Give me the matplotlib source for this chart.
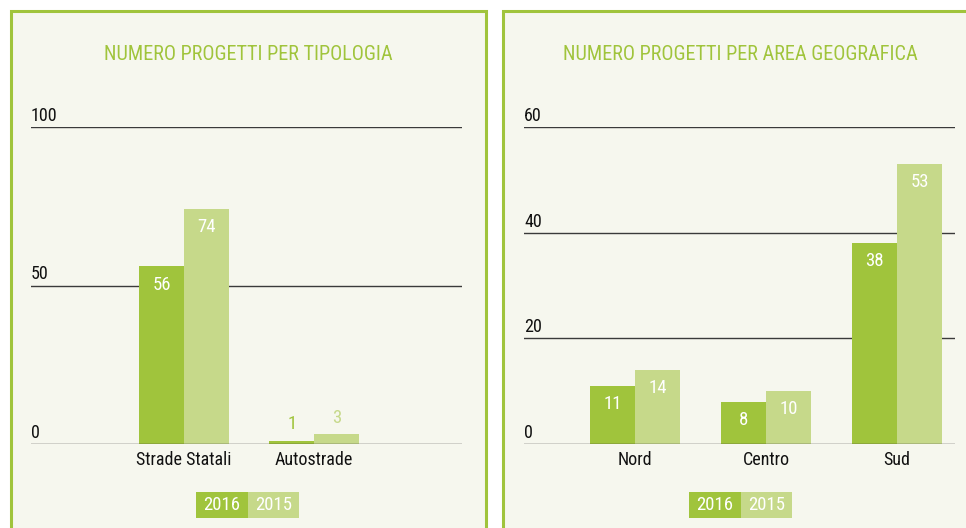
import matplotlib
matplotlib.use("Agg")
import matplotlib.pyplot as plt
from matplotlib import font_manager
from matplotlib.patches import Rectangle
import numpy as np

# data
years = ["2016", "2015"]
tipologia = ["Strade Statali", "Autostrade"]
tipologia_2016 = [56, 1]
tipologia_2015 = [74, 3]
tipologia_ticks = [0, 50, 100]

aree = ["Nord", "Centro", "Sud"]
aree_2016 = [11, 8, 38]
aree_2015 = [14, 10, 53]
aree_ticks = [0, 20, 40, 60]

GREEN = "#a0c43c"
LIGHT = "#c6d98a"
BG = "#f6f7ee"

# pick a narrow font if one is installed
installed = {f.name for f in font_manager.fontManager.ttflist}
narrow = [n for n in ["Liberation Sans Narrow", "Roboto Condensed", "DejaVu Sans Condensed",
                      "Roboto"] if n in installed]
plt.rcParams["font.family"] = narrow[:1] + ["DejaVu Sans"]

W, H = 966, 528
fig = plt.figure(figsize=(W / 100, H / 100), dpi=100, facecolor="white")


def fx(px):
    return px / W


def fy(py):
    return 1 - py / H


def panel(x0, x1, title, cx):
    # green framed box, open at the bottom edge of the image
    fig.patches.append(Rectangle((fx(x0), fy(H + 10)), fx(x1 - x0), (H + 10 - 10.5) / H,
                                 transform=fig.transFigure, facecolor=BG,
                                 edgecolor=GREEN, linewidth=2.2, zorder=-5))
    fig.text(fx(cx), fy(54), title, color=GREEN, fontsize=14.6,
             ha="center", va="center")


def legend(cx):
    w, h, top = 51.5, 26, 492
    for i, (yr, col) in enumerate(zip(years, [GREEN, LIGHT])):
        x0 = cx - w + i * w
        fig.patches.append(Rectangle((fx(x0), fy(top + h)), fx(w), h / H,
                                     transform=fig.transFigure, facecolor=col,
                                     edgecolor="none", zorder=1))
        fig.text(fx(x0 + w / 2), fy(top + h / 2 + 0.5), yr, color="white",
                 fontsize=13.5, ha="center", va="center", zorder=2)


def bars(rect, cats, v16, v15, ticks, xlim):
    ax = fig.add_axes(rect)
    ax.set_facecolor("none")
    ax.set_zorder(1)
    x = np.arange(len(cats))
    bw = 0.343
    ymax = ticks[-1]
    for vals, col, off in [(v16, GREEN, -bw / 2), (v15, LIGHT, bw / 2)]:
        ax.bar(x + off, vals, width=bw, color=col, zorder=2)
        for xi, v in zip(x + off, vals):
            if v / ymax < 0.08:
                ax.annotate(str(v), (xi, v), xytext=(0, 12), textcoords="offset points",
                            ha="center", va="center", color=col, fontsize=13.5)
            else:
                ax.annotate(str(v), (xi, v), xytext=(0, -13), textcoords="offset points",
                            ha="center", va="center", color="white", fontsize=13.5)
    for t in ticks:
        ax.axhline(t, color="#3a3a3a", linewidth=1.0, zorder=3 if t == 0 else 1)
        ax.annotate(str(t), (0, t), xycoords=("axes fraction", "data"),
                    xytext=(0, 1.5), textcoords="offset points",
                    ha="left", va="bottom", fontsize=13, color="#111111")
    ax.set_xlim(*xlim)
    ax.set_ylim(0, ymax)
    ax.set_xticks(x)
    ax.set_xticklabels(cats, fontsize=13, color="#111111")
    ax.tick_params(axis="x", length=0, pad=5)
    ax.set_yticks([])
    for s in ax.spines.values():
        s.set_visible(False)
    return ax


panel(10.5, 486, "NUMERO PROGETTI PER TIPOLOGIA", 248)
panel(502.5, 990, "NUMERO PROGETTI PER AREA GEOGRAFICA", 740)

bars([fx(31), fy(444), fx(431), 317 / H], tipologia, tipologia_2016, tipologia_2015,
     tipologia_ticks, (-1.177, 2.138))
bars([fx(524), fy(444), fx(431), 317 / H], aree, aree_2016, aree_2015,
     aree_ticks, (-0.847, 2.443))

legend(247.5)
legend(740.5)

fig.savefig("out.png", dpi=100, facecolor="white")
